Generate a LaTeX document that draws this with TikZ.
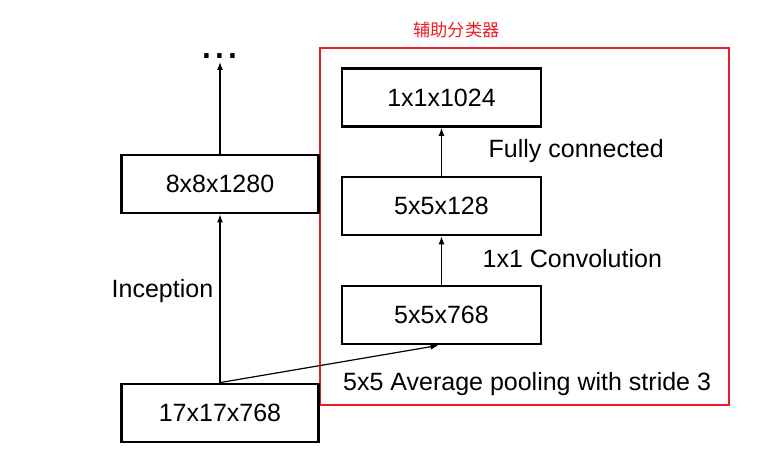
\documentclass[tikz,border=0pt]{standalone}
\usepackage{fontspec}
\setmainfont{Liberation Sans}
\newfontfamily\cjk{Noto Sans CJK SC}
\usetikzlibrary{arrows.meta}
\definecolor{redc}{RGB}{237,28,36}
\begin{document}
\begin{tikzpicture}[x=1pt,y=-1pt,
  layerbox/.style={draw=black,line width=2.8pt,inner sep=0pt,font=\fontsize{25}{28}\selectfont},
  flow/.style={line width=1.2pt,-{Latex[length=8pt,width=6pt]}},
  lbl/.style={anchor=base west,inner sep=0pt,font=\fontsize{25}{28}\selectfont}]
\useasboundingbox (0,0) rectangle (764,465);
\draw[redc,line width=2pt] (320,48) rectangle (729,405);
\node[text=redc,inner sep=0pt,font=\cjk\fontsize{17.2}{19}\selectfont] (title) at (456.5,30) {辅助分类器};
\node[layerbox,minimum width=197pt,minimum height=58pt] (b17) at (220,413) {17x17x768};
\node[layerbox,minimum width=197pt,minimum height=58pt] (b8) at (220,184) {8x8x1280};
\node[inner sep=0pt,font=\fontsize{46}{50}\selectfont] (dots) at (220,56) {...};
\coordinate (dotsb) at (220,62);
\node[layerbox,minimum width=199pt,minimum height=58pt] (c1) at (441.5,315) {5x5x768};
\node[layerbox,minimum width=199pt,minimum height=58pt] (c2) at (441.5,206) {5x5x128};
\node[layerbox,minimum width=199pt,minimum height=58pt] (c3) at (441.5,97.5) {1x1x1024};
\draw[flow] (b17.north) -- (b8.south);
\draw[flow] (b8.north) -- (dotsb);
\draw[flow] (b17.north) -- ([xshift=-3pt]c1.south);
\draw[flow] (c1.north) -- (c2.south);
\draw[flow] (c2.north) -- (c3.south);
\node[lbl] (l1) at (488.5,158) {Fully connected};
\node[lbl] (l2) at (482.5,267.5) {1x1 Convolution};
\node[lbl] (l3) at (111.5,297.5) {Inception};
\node[lbl] (l4) at (343,391) {5x5 Average pooling with stride 3};
\end{tikzpicture}
\end{document}
